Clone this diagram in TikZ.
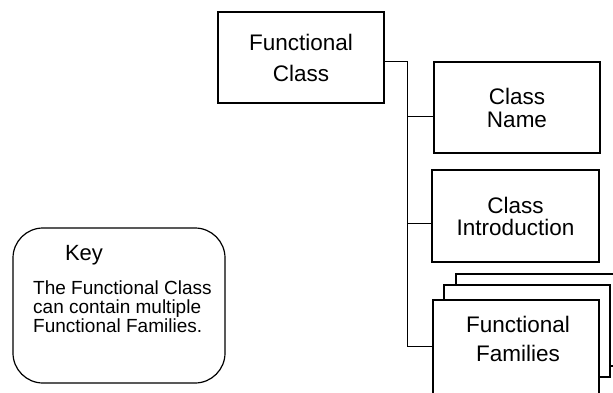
\documentclass[tikz,border=0pt]{standalone}
\usepackage{fontspec}
\setmainfont{Liberation Sans}
\begin{document}
\begin{tikzpicture}[x=1pt,y=-1pt,
  box/.style={draw=black,line width=1.3pt,fill=white,inner sep=0pt,align=center},
  conn/.style={draw=black,line width=1pt},
  keybox/.style={draw=black,line width=1.2pt,rounded corners=30pt,inner sep=0pt}]
\useasboundingbox (0,0) rectangle (613,392);
\clip (0,0) rectangle (613,392);
% main boxes
\node[box,minimum width=166pt,minimum height=91pt,font=\fontsize{22.5}{31}\selectfont] (fc) at (301,57.5) {Functional\\Class};
\node[box,minimum width=166pt,minimum height=91pt,font=\fontsize{22.5}{23}\selectfont] (cn) at (517,107.5) {Class\\Name};
\node[box,minimum width=167pt,minimum height=92pt,font=\fontsize{22.5}{22}\selectfont] (ci) at (515.5,216) {Class\\Introduction};
% stacked family boxes
\node[box,minimum width=166pt,minimum height=92pt] (ffb) at (539,320) {};
\node[box,minimum width=166pt,minimum height=92pt] (ffm) at (527,331) {};
\node[box,minimum width=166pt,minimum height=96pt] (ff) at (516,348) {};
\node[align=center,font=\fontsize{22.5}{29}\selectfont,inner sep=0pt] (fft) at (518,339) {Functional\\Families};
% connectors
\coordinate (t1) at (407,61);
\coordinate (j1) at (407,116);
\coordinate (j2) at (407,223);
\coordinate (tb) at (407,346);
\draw[conn] (fc.east |- t1) -- (t1) -- (tb) -- (ff.west |- tb);
\draw[conn] (j1) -- (cn.west |- j1);
\draw[conn] (j2) -- (ci.west |- j2);
% key
\node[keybox,minimum width=212pt,minimum height=155pt] (key) at (119,305.5) {};
\node[font=\fontsize{22}{26}\selectfont,inner sep=0pt] (keyt) at (84,255) {Key};
\node[anchor=base west,align=left,inner sep=0pt,font=\fontsize{19}{19}\selectfont] (keyd) at (33,332) {The Functional Class\\can contain multiple\\Functional Families.};
\end{tikzpicture}
\end{document}
